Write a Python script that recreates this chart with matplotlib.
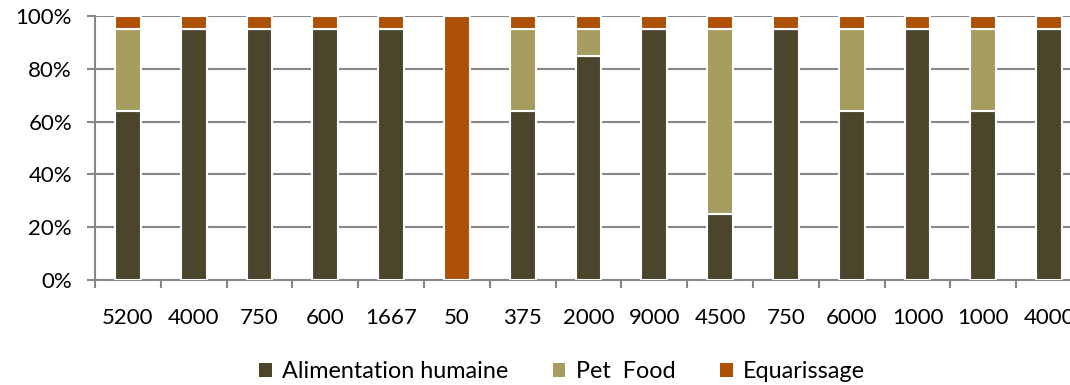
import numpy as np
import matplotlib.pyplot as plt
from matplotlib.patches import Patch
from matplotlib.ticker import FixedLocator, PercentFormatter

plt.rcParams['font.family'] = ['Lato', 'DejaVu Sans']

# data (percent of each bar)
labels = ['5200', '4000', '750', '600', '1667', '50', '375', '2000', '9000',
          '4500', '750', '6000', '1000', '1000', '4000']
alimentation = [64, 95, 95, 95, 95, 0, 64, 85, 95, 25, 95, 64, 95, 64, 95]
pet_food = [31, 0, 0, 0, 0, 0, 31, 10, 0, 70, 0, 31, 0, 31, 0]
equarissage = [5, 5, 5, 5, 5, 100, 5, 5, 5, 5, 5, 5, 5, 5, 5]

series_names = ['Alimentation humaine', 'Pet  Food', 'Equarissage']
colors = ['#4A452B', '#A69C60', '#AE5006']
grid_col = '#868686'

fig = plt.figure(figsize=(10.7, 3.85), dpi=100)
# the plot area runs past the right edge, as in the original (last label is clipped)
ax = fig.add_axes([95 / 1070, 105 / 385, 987 / 1070, 264 / 385])

x = np.arange(len(labels))
bottom = np.zeros(len(labels))
for vals, col in zip([alimentation, pet_food, equarissage], colors):
    vals = np.array(vals, dtype=float)
    ax.bar(x, vals, width=0.39, bottom=bottom, color=col,
           edgecolor='white', linewidth=1.5, zorder=3)
    bottom += vals

ax.set_xlim(-0.5, len(labels) - 0.5)
ax.set_ylim(0, 100)
ax.set_yticks(np.arange(0, 101, 20))
ax.yaxis.set_major_formatter(PercentFormatter(decimals=0))
ax.yaxis.grid(True, color=grid_col, linewidth=1.5, zorder=0)

ax.set_xticks(x)
ax.set_xticklabels(labels)
ax.xaxis.set_minor_locator(FixedLocator(np.arange(-0.5, len(labels), 1.0)))
ax.tick_params(axis='x', which='major', length=0, pad=20, labelsize=16)
ax.tick_params(axis='x', which='minor', length=5.5, width=1.5, color=grid_col)
ax.tick_params(axis='y', length=5.5, width=1.5, color=grid_col, pad=11,
               labelsize=16)

for s in ['top', 'right']:
    ax.spines[s].set_visible(False)
for s in ['left', 'bottom']:
    ax.spines[s].set_color(grid_col)
    ax.spines[s].set_linewidth(1.5)

handles = [Patch(facecolor=c, edgecolor='none') for c in colors]
fig.legend(handles, series_names, loc='center', ncol=3,
           bbox_to_anchor=(562 / 1070, 1 - 372 / 385), frameon=False,
           fontsize=16.8, handlelength=0.55, handleheight=0.55,
           handletextpad=0.45, columnspacing=1.9)

fig.savefig('out.png', dpi=100)
